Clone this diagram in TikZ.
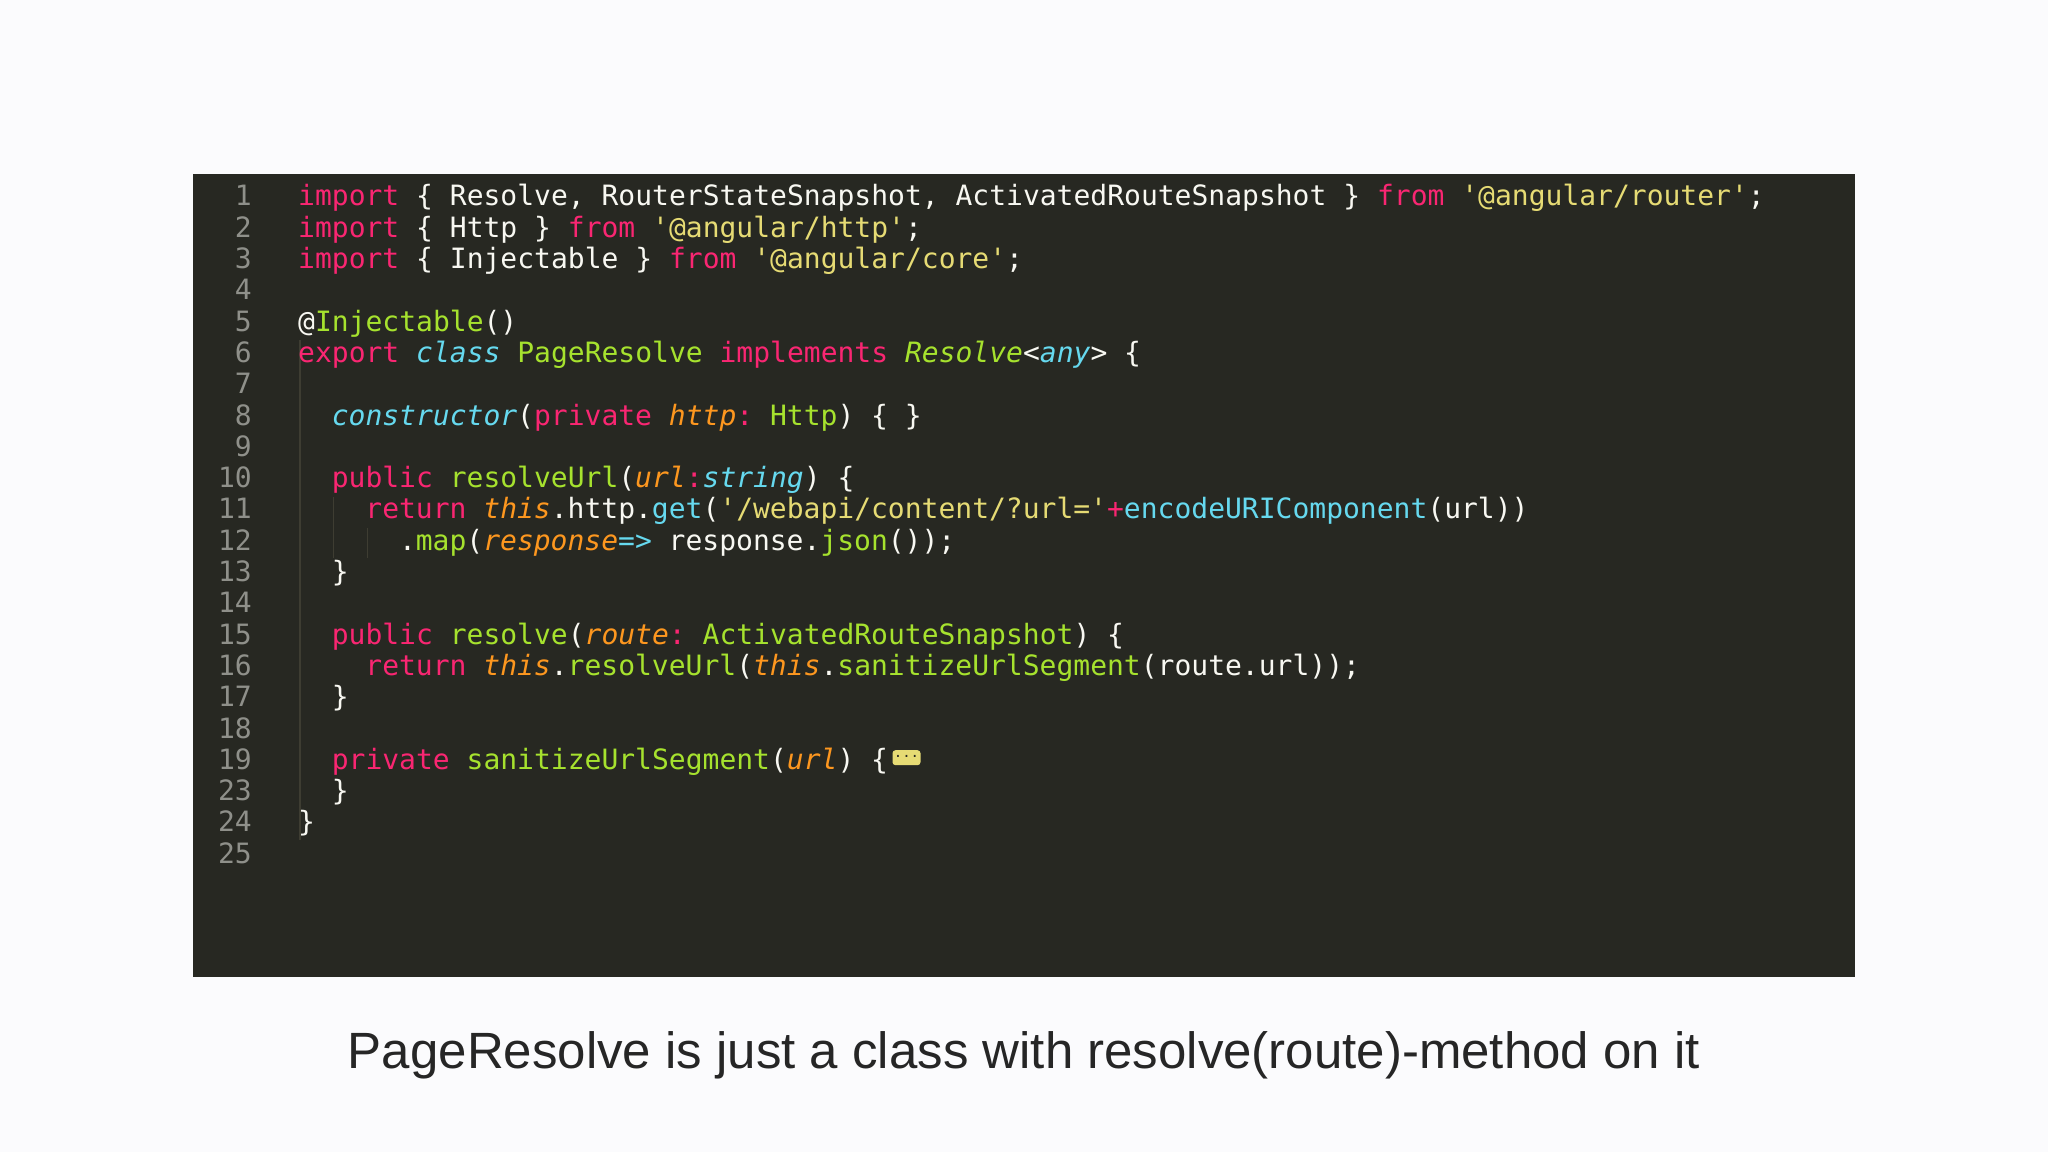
\documentclass[tikz,border=0pt]{standalone}
\usepackage{fontspec}
\setmainfont{Liberation Sans}
\setmonofont{DejaVu Sans Mono}
\definecolor{bgc}{HTML}{272822}
\definecolor{pagec}{HTML}{FBFBFD}
\definecolor{mpink}{HTML}{F92672}
\definecolor{myel}{HTML}{E6DB74}
\definecolor{mgreen}{HTML}{A6E22E}
\definecolor{mcyan}{HTML}{66D9EF}
\definecolor{morange}{HTML}{FD971F}
\definecolor{mwhite}{HTML}{F8F8F2}
\definecolor{mgray}{HTML}{8F908A}
\definecolor{guide}{HTML}{3E3D32}
\newcommand\Kw[1]{\textcolor{mpink}{#1}}
\newcommand\St[1]{\textcolor{myel}{#1}}
\newcommand\Gr[1]{\textcolor{mgreen}{#1}}
\newcommand\Gi[1]{\textcolor{mgreen}{\itshape #1}}
\newcommand\Cy[1]{\textcolor{mcyan}{#1}}
\newcommand\Ci[1]{\textcolor{mcyan}{\itshape #1}}
\newcommand\Oi[1]{\textcolor{morange}{\itshape #1}}
\begin{document}
\begin{tikzpicture}[x=1pt,y=1pt,
  code/.style={anchor=base west,inner sep=0,text=mwhite,font=\ttfamily\fontsize{28}{30}\selectfont},
  lnum/.style={anchor=base east,inner sep=0,text=mgray,font=\ttfamily\fontsize{28}{30}\selectfont}]
\fill[pagec] (0,0) rectangle (2048,1152);
\fill[bgc] (193,175) rectangle (1855,978);
\def\Y#1{946-31.3*(#1)}
% indent guides
\draw[guide,line width=1.2] (300,{\Y{5}+22}) -- (300,{\Y{20}-8});
\draw[guide,line width=1.2] (333.6,{\Y{10}+22}) -- (333.6,{\Y{11}-8});
\draw[guide,line width=1.2] (367.2,{\Y{11}+22}) -- (367.2,{\Y{11}-8});
% line numbers
\foreach \n/\r in {1/0,2/1,3/2,4/3,5/4,6/5,7/6,8/7,9/8,10/9,11/10,12/11,13/12,14/13,15/14,16/15,17/16,18/17,19/18,23/19,24/20,25/21}
  \node[lnum] (n\n) at (252,{\Y{\r}}) {\n};
\node[code] (l1) at (298,{\Y{0}}) {\Kw{import} \{ Resolve, RouterStateSnapshot, ActivatedRouteSnapshot \} \Kw{from} \St{'@angular/router'};};
\node[code] (l2) at (298,{\Y{1}}) {\Kw{import} \{ Http \} \Kw{from} \St{'@angular/http'};};
\node[code] (l3) at (298,{\Y{2}}) {\Kw{import} \{ Injectable \} \Kw{from} \St{'@angular/core'};};
\node[code] (l5) at (298,{\Y{4}}) {@\Gr{Injectable}()};
\node[code] (l6) at (298,{\Y{5}}) {\Kw{export} \Ci{class} \Gr{PageResolve} \Kw{implements} \Gi{Resolve}<\Ci{any}> \{};
\node[code] (l8) at (331.6,{\Y{7}}) {\Ci{constructor}(\Kw{private} \Oi{http}\Kw{:} \Gr{Http}) \{ \}};
\node[code] (l10) at (331.6,{\Y{9}}) {\Kw{public} \Gr{resolveUrl}(\Oi{url}\Kw{:}\Ci{string}) \{};
\node[code] (l11) at (365.2,{\Y{10}}) {\Kw{return} \Oi{this}.http.\Cy{get}(\St{'/webapi/content/?url='}\Kw{+}\Cy{encodeURIComponent}(url))};
\node[code] (l12) at (398.8,{\Y{11}}) {.\Gr{map}(\Oi{response}\Cy{=>} response.\Gr{json}());};
\node[code] (l13) at (331.6,{\Y{12}}) {\}};
\node[code] (l15) at (331.6,{\Y{14}}) {\Kw{public} \Gr{resolve}(\Oi{route}\Kw{:} \Gr{ActivatedRouteSnapshot}) \{};
\node[code] (l16) at (365.2,{\Y{15}}) {\Kw{return} \Oi{this}.\Gr{resolveUrl}(\Oi{this}.\Gr{sanitizeUrlSegment}(route.url));};
\node[code] (l17) at (331.6,{\Y{16}}) {\}};
\node[code] (l19) at (331.6,{\Y{18}}) {\Kw{private} \Gr{sanitizeUrlSegment}(\Oi{url}) \{};
\node[fill=myel,rounded corners=3,minimum width=28,minimum height=15,inner sep=0,anchor=west,
  font=\ttfamily\fontsize{14}{14}\selectfont,text=bgc] (fold) at (l19.east) [yshift=4,xshift=4] {\raisebox{2pt}{...}};
\node[code] (l23) at (331.6,{\Y{19}}) {\}};
\node[code] (l24) at (298,{\Y{20}}) {\}};
\node[anchor=base,inner sep=0,font=\fontsize{51}{56}\selectfont,text=black!85] (cap) at (1024,84)
  {PageResolve is just a class with resolve(route)-method on it};
\end{tikzpicture}
\end{document}
